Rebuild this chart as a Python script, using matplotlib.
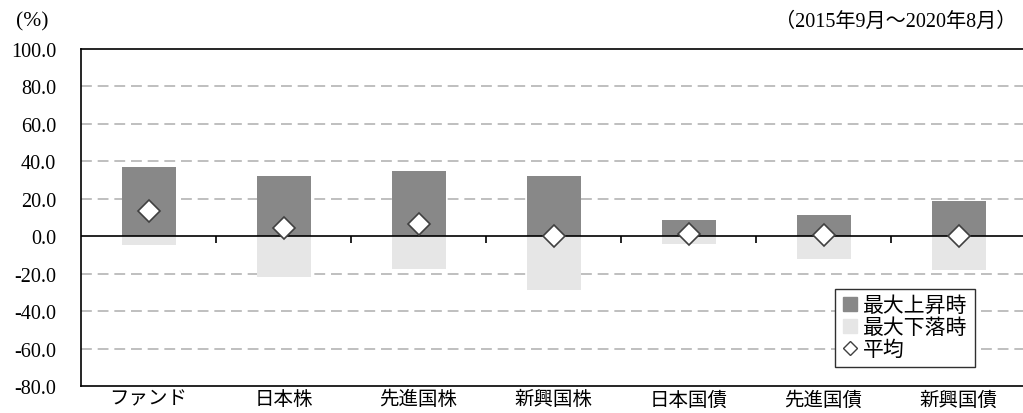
#!/usr/bin/env python3

import numpy as np
from matplotlib import pyplot as plt
from matplotlib.lines import Line2D

plt.rcParams['font.family'] = ['Liberation Serif', 'Noto Sans CJK JP']

CATEGORIES = ['ファンド', '日本株', '先進国株', '新興国株', '日本国債', '先進国債', '新興国債']
MAX_RISE = [37.0, 32.0, 34.7, 32.0, 8.9, 11.2, 19.0]
MAX_FALL = [-4.6, -21.9, -17.3, -28.5, -3.9, -12.3, -18.0]
AVERAGE = [13.7, 4.3, 6.6, 0.3, 1.2, 0.5, 0.3]
YTICKS = [100, 80, 60, 40, 20, 0, -20, -40, -60, -80]

DARK = '#888888'
LIGHT = '#e6e6e6'
GRID = '#b4b4b4'


def main():
    fig = plt.figure(figsize=(10.23, 4.14), dpi=100)
    ax = fig.add_axes([81 / 1023, 27 / 414, 942 / 1023, 337 / 414])

    x = np.arange(len(CATEGORIES))
    ax.bar(x, MAX_RISE, width=0.4, color=DARK, zorder=2)
    ax.bar(x, MAX_FALL, width=0.4, color=LIGHT, zorder=2)
    ax.plot(x, AVERAGE, 'D', markersize=11.7, markerfacecolor='white',
            markeredgecolor='#404040', markeredgewidth=1.2, zorder=4)

    ax.set_ylim(-80, 100)
    ax.set_xlim(-0.5, 6.5 - 3 / 135)
    ax.set_yticks(YTICKS)
    ax.set_yticklabels(['%.1f' % v for v in YTICKS], fontsize=14.5)
    ax.set_xticks(x)
    ax.set_xticklabels(CATEGORIES, fontsize=14)
    ax.tick_params(axis='x', length=0, pad=3)
    ax.tick_params(axis='y', length=0, pad=18)

    # dashed grid, solid zero line with short separators between categories
    for v in YTICKS[1:-1]:
        if v == 0:
            continue
        ax.axhline(v, color=GRID, linewidth=1.2, dashes=(6.5, 3.5), zorder=1)
    ax.axhline(0, color='black', linewidth=1.2, zorder=3)
    ax.vlines(x[1:] - 0.5, -3.6, 0, color='black', linewidth=1.2, zorder=3)

    for side in ['top', 'left', 'bottom']:
        ax.spines[side].set_linewidth(1.2)
    ax.spines['right'].set_visible(False)

    fig.text(16 / 1023, 1 - 22 / 414, '(%)', fontsize=15.5, va='center')
    fig.text(1016 / 1023, 1 - 22 / 414, '（2015年9月～2020年8月）', fontsize=14.5,
             va='center', ha='right')

    handles = [
        Line2D([], [], linestyle='none', marker='s', markersize=10.5,
               markerfacecolor=DARK, markeredgecolor=DARK),
        Line2D([], [], linestyle='none', marker='s', markersize=10.5,
               markerfacecolor=LIGHT, markeredgecolor=LIGHT),
        Line2D([], [], linestyle='none', marker='D', markersize=7,
               markerfacecolor='white', markeredgecolor='#404040'),
    ]
    leg = ax.legend(handles, ['最大上昇時', '最大下落時', '平均'],
                    loc='upper left', bbox_to_anchor=(835 / 1023, 1 - 290 / 414),
                    bbox_transform=fig.transFigure, borderaxespad=0,
                    fancybox=False, framealpha=1, edgecolor='#303030',
                    fontsize=15, handlelength=0.75, handletextpad=0.25,
                    labelspacing=0.12, borderpad=0.35)
    leg.get_frame().set_linewidth(1.0)

    fig.savefig('out.png', dpi=100)


if __name__ == '__main__':
    main()
